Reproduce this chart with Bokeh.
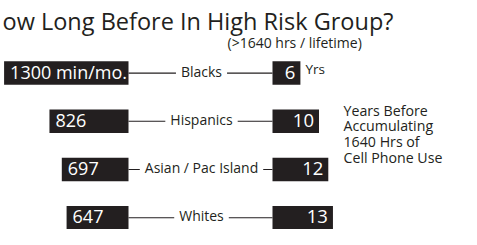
from bokeh.plotting import figure
from bokeh.models import Range1d
from bokeh.core.properties import value
from bokeh.embed import file_html
from bokeh.resources import INLINE

# ---- data ----
groups = ["Blacks", "Hispanics", "Asian / Pac Island", "Whites"]
minutes = [1300, 826, 697, 647]
minute_labels = ["1300 min/mo.", "826", "697", "647"]
years = [6, 10, 12, 13]
year_labels = ["6", "10", "12", "13"]
title_text = "ow Long Before In High Risk Group?"
subtitle_text = "(>1640 hrs / lifetime)"
unit_text = "Yrs"
note_lines = ["Years Before", "Accumulating", "1640 Hrs of", "Cell Phone Use"]

# ---- layout / style ----
W, H = 461, 229
FONT = "Open Sans"
DARK = "#231f20"
L_ANCHOR, R_ANCHOR = 128, 272       # px where bars start
PX_PER_MIN, PX_PER_YR = 0.0957, 4.65
ROW0, ROW_GAP, BAR_H = 72.6, 48.2, 23.5
LABEL_X = 201

p = figure(width=W, height=H, output_backend="svg", toolbar_location=None,
           x_range=Range1d(0, W), y_range=Range1d(H, 0),
           min_border=0, outline_line_color=None)
p.axis.visible = False
p.grid.visible = False
p.background_fill_color = "white"

# scales for the data
p.extra_x_ranges["min"] = Range1d(L_ANCHOR / PX_PER_MIN, (L_ANCHOR - W) / PX_PER_MIN)
p.extra_x_ranges["yrs"] = Range1d(-R_ANCHOR / PX_PER_YR, (W - R_ANCHOR) / PX_PER_YR)
p.extra_y_ranges["row"] = Range1d((H - ROW0) / ROW_GAP, -ROW0 / ROW_GAP)

rows = list(range(len(groups)))
bar_h = BAR_H / ROW_GAP

# connector lines
p.segment(x0=[L_ANCHOR] * len(rows), x1=[R_ANCHOR] * len(rows), y0=rows, y1=rows,
          y_range_name="row", line_color=DARK, line_width=1.1)

# bars
p.hbar(y=rows, left=0, right=minutes, height=bar_h, x_range_name="min", y_range_name="row",
       fill_color=DARK, line_color=None)
p.hbar(y=rows, left=0, right=years, height=bar_h, x_range_name="yrs", y_range_name="row",
       fill_color=DARK, line_color=None)

# bar values
p.text(x=minutes, y=rows, text=minute_labels, x_range_name="min", y_range_name="row",
       text_font=value(FONT), text_font_size="18px", text_color="white",
       text_align="left", text_baseline="middle", x_offset=6, y_offset=-1)
p.text(x=years, y=rows, text=year_labels, x_range_name="yrs", y_range_name="row",
       text_font=value(FONT), text_font_size="18.5px", text_color="white",
       text_align="right", text_baseline="middle", x_offset=-5, y_offset=-1)

# group labels
p.text(x=[LABEL_X] * len(rows), y=rows, text=groups, y_range_name="row",
       text_font=value(FONT), text_font_size="14px", text_color=DARK,
       text_align="center", text_baseline="middle", y_offset=-2,
       background_fill_color="white", padding=5)

# "Yrs"
p.text(x=[years[0]], y=[0], text=[unit_text], x_range_name="yrs", y_range_name="row",
       text_font=value(FONT), text_font_size="13.5px", text_color=DARK,
       text_align="left", text_baseline="middle", x_offset=5, y_offset=-4)

# titles
p.text(x=[2], y=[20.5], text=[title_text], text_font=value(FONT), text_font_size="23.5px",
       text_color=DARK, text_align="left", text_baseline="middle")
p.text(x=[227], y=[41.5], text=[subtitle_text], text_font=value(FONT), text_font_size="14px",
       text_color=DARK, text_align="left", text_baseline="middle")

# side note
p.text(x=[343] * len(note_lines), y=[109.5 + i * 15.8 for i in range(len(note_lines))],
       text=note_lines, text_font=value(FONT), text_font_size="14.2px",
       text_color=DARK, text_align="left", text_baseline="middle")

open("out.html", "w").write(file_html(p, INLINE))
